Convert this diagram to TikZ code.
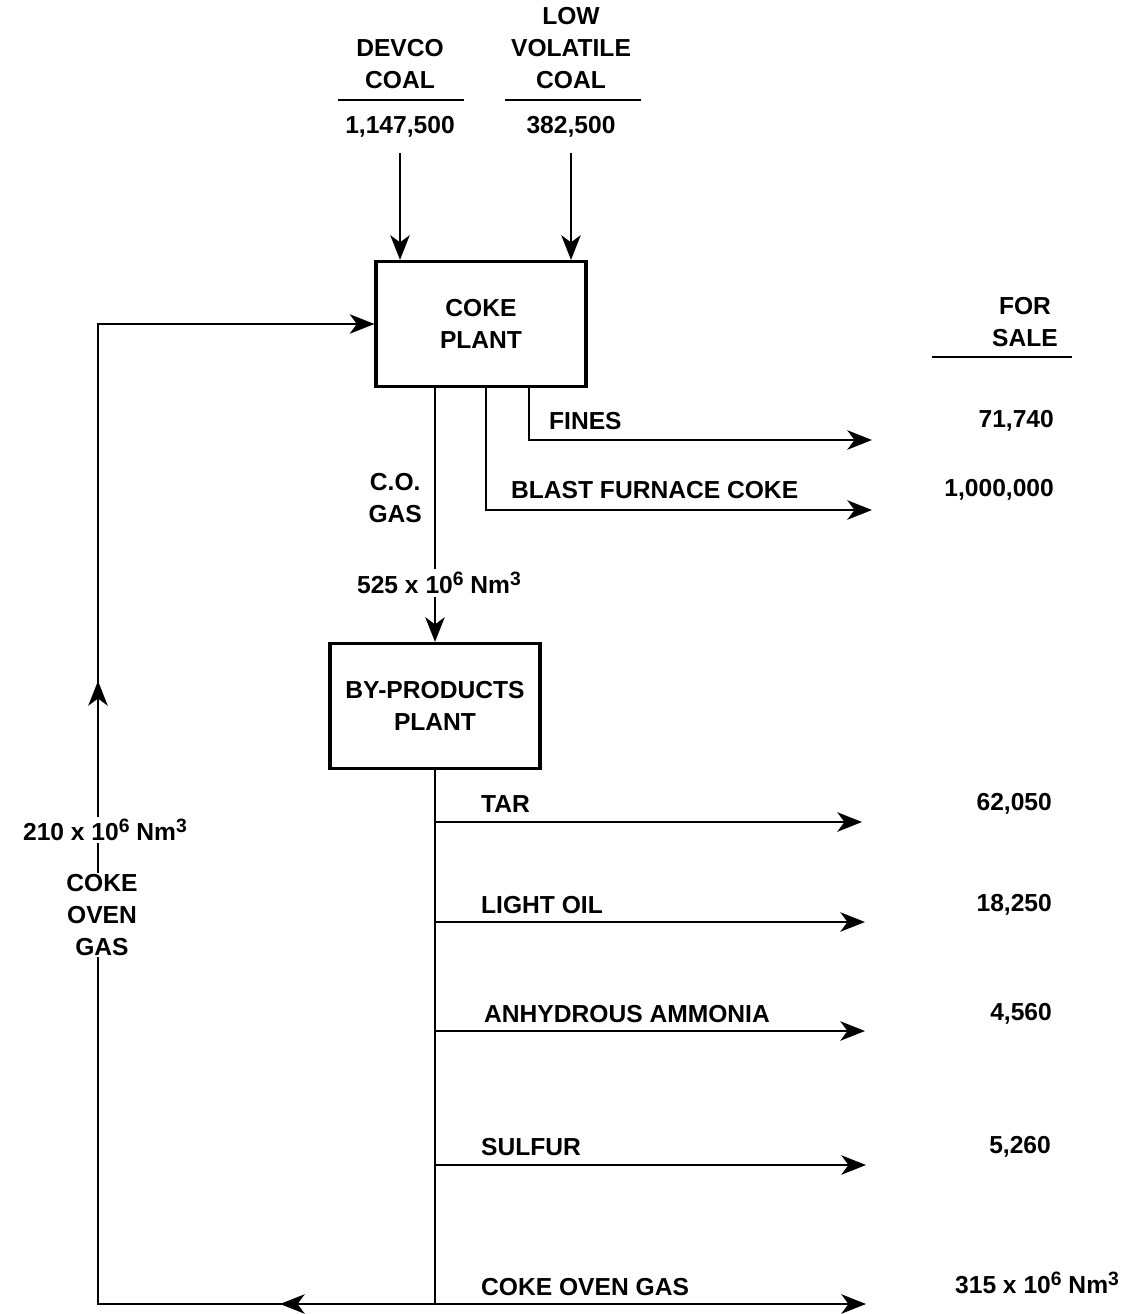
\documentclass[tikz,border=0pt]{standalone}
\usepackage{fontspec}
\setmainfont{Liberation Sans}
\usetikzlibrary{arrows.meta,decorations.markings}

\newcommand{\supr}[1]{\raisebox{0.6ex}{\fontsize{11}{11}\selectfont #1}}

\begin{document}
\begin{tikzpicture}[
  x=0.2mm, y=-0.2mm,
  font=\fontsize{14}{18}\selectfont\bfseries,
  line width=1.6pt,
  plantbox/.style={rectangle, draw, line width=1.8pt, minimum width=4.2cm, minimum height=2.5cm, align=center},
  lbl/.style={inner sep=1pt, align=center},
  arr/.style={-{Stealth[length=14pt, width=11pt, inset=4pt]}}
]
\useasboundingbox[fill=white] (0,0) rectangle (1137,1314);

% coal inputs
\node (devco) [lbl] at (400,64) {DEVCO\\COAL};
\node (lowvol) [lbl] at (571,48) {LOW\\VOLATILE\\COAL};
\draw (338,100) -- (464,100);
\draw (505,100) -- (641,100);
\node (devcoqty) [lbl] at (400,127) {1,147,500};
\node (lowvolqty) [lbl] at (571,127) {382,500};

% plants
\node (coke) [plantbox] at (481,324) {COKE\\PLANT};
\node (byprod) [plantbox] at (435,706) {BY-PRODUCTS\\PLANT};

\draw [arr, shorten <=2.5mm] (devcoqty.south) -- (devcoqty.south |- coke.north);
\draw [arr, shorten <=2.5mm] (lowvolqty.south) -- (lowvolqty.south |- coke.north);

% for sale column
\node (forsale) [lbl] at (1025,322) {FOR\\SALE};
\draw (932,357) -- (1072,357);

% coke plant outputs
\coordinate (finesend) at (872,440);
\coordinate (bfend) at (872,510);
\draw [arr] ([xshift=9.6mm]coke.south) |- (finesend);
\draw [arr] ([xshift=1mm]coke.south) |- (bfend);
\node (fines) [lbl, anchor=west] at (546,421) {FINES};
\node (bfcoke) [lbl, anchor=west] at (508,490) {BLAST FURNACE COKE};
\node (finesqty) [lbl, anchor=east] at (1057,421) {71,740};
\node (bfqty) [lbl, anchor=east] at (1057,490) {1,000,000};

\node (cogasq) [lbl] at (439,583) {525 x 10\supr{6} Nm\supr{3}};
\node (cogas) [lbl, anchor=east] at (425,498) {C.O.\\GAS};
\draw (byprod.north |- coke.south) -- (byprod.north |- cogasq.north);
\draw [arr] (byprod.north |- cogasq.south) -- (byprod.north);

% by-products outputs
\coordinate (tarend) at (862,822);
\coordinate (oilend) at (865,922);
\coordinate (nh3end) at (865,1031);
\coordinate (sulfend) at (866,1165);
\coordinate (cogend) at (866,1304);
\draw (byprod.south) -- (byprod.south |- cogend);
\draw [arr] (byprod.south |- tarend) -- (tarend);
\draw [arr] (byprod.south |- oilend) -- (oilend);
\draw [arr] (byprod.south |- nh3end) -- (nh3end);
\draw [arr] (byprod.south |- sulfend) -- (sulfend);
\draw [arr] (byprod.south |- cogend) -- (cogend);

\node (tar) [lbl, anchor=west] at (478,804) {TAR};
\node (oil) [lbl, anchor=west] at (478,905) {LIGHT OIL};
\node (nh3) [lbl, anchor=west] at (481,1014) {ANHYDROUS AMMONIA};
\node (sulf) [lbl, anchor=west] at (478,1147) {SULFUR};
\node (cog) [lbl, anchor=west] at (478,1287) {COKE OVEN GAS};

\node (tarqty) [lbl, anchor=east] at (1055,804) {62,050};
\node (oilqty) [lbl, anchor=east] at (1055,905) {18,250};
\node (nh3qty) [lbl, anchor=east] at (1055,1014) {4,560};
\node (sulfqty) [lbl, anchor=east] at (1054,1147) {5,260};
\node (cogqty) [lbl] at (1037,1283) {315 x 10\supr{6} Nm\supr{3}};

% gas returned to coke plant
\coordinate (retbot) at (98,1304);
\draw [arr, postaction={decorate}, decoration={markings,
    mark=at position 3.1cm with {\arrow{Stealth[length=14pt, width=11pt, inset=4pt]}},
    mark=at position 19.2cm with {\arrow{Stealth[length=14pt, width=11pt, inset=4pt]}}}]
  (byprod.south |- cogend) -- (retbot) |- (coke.west);
\node (retq) [lbl, fill=white] at (105,830) {210 x 10\supr{6} Nm\supr{3}};
\node (retgas) [lbl, fill=white] at (102,915) {COKE\\OVEN\\GAS};

\end{tikzpicture}
\end{document}
